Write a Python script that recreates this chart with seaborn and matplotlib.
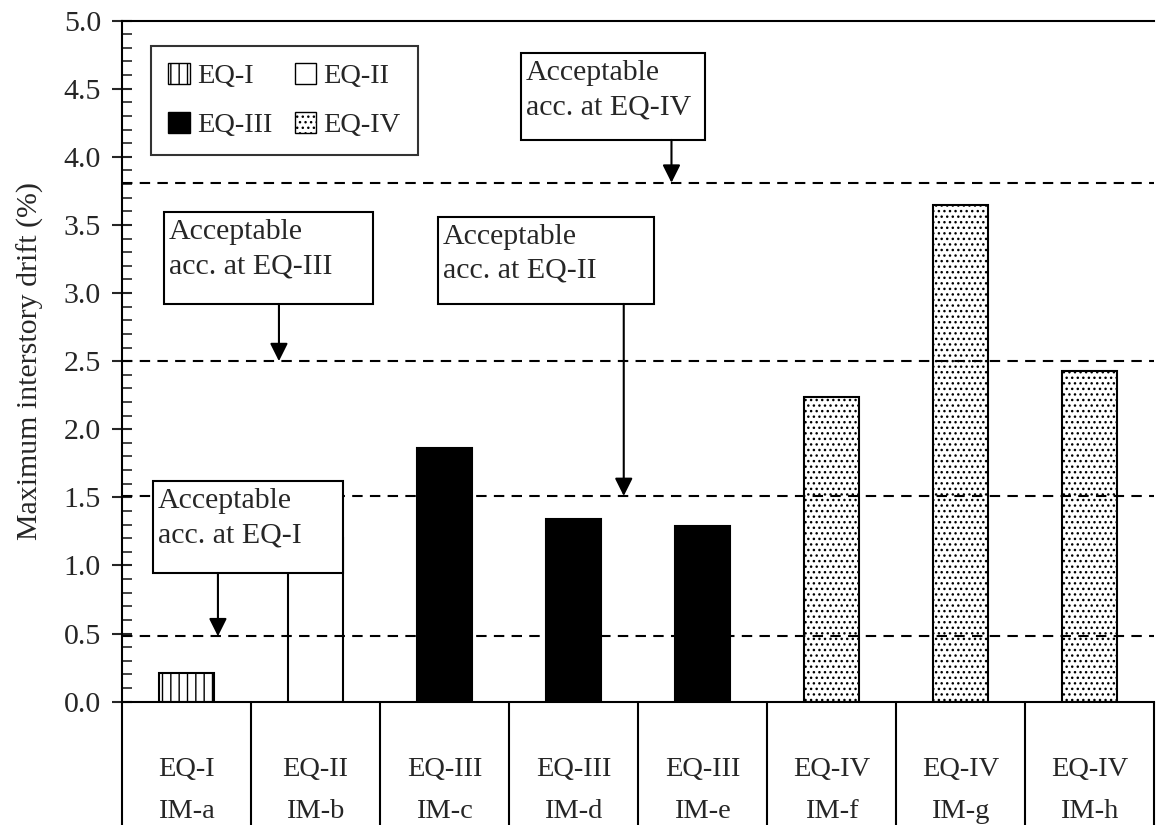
import numpy as np
import pandas as pd
import matplotlib
matplotlib.use('Agg')
import matplotlib.pyplot as plt
import seaborn as sns
from matplotlib.patches import Patch, Rectangle

sns.set_style('ticks')
plt.rcParams['font.family'] = ['Liberation Serif', 'DejaVu Serif']
plt.rcParams['hatch.linewidth'] = 1.0

# data
models = ['IM-a', 'IM-b', 'IM-c', 'IM-d', 'IM-e', 'IM-f', 'IM-g', 'IM-h']
levels = ['EQ-I', 'EQ-II', 'EQ-III', 'EQ-III', 'EQ-III', 'EQ-IV', 'EQ-IV', 'EQ-IV']
drift = [0.21, 1.20, 1.865, 1.34, 1.29, 2.235, 3.65, 2.43]
limit_levels = ['EQ-I', 'EQ-II', 'EQ-III', 'EQ-IV']
limits = [0.48, 1.51, 2.50, 3.81]

styles = {
    'EQ-I': dict(facecolor='white', hatch='||'),
    'EQ-II': dict(facecolor='white', hatch=''),
    'EQ-III': dict(facecolor='black', hatch=''),
    'EQ-IV': dict(facecolor='white', hatch='...'),
}

df = pd.DataFrame({'model': models, 'level': levels, 'drift': drift})

fig = plt.figure(figsize=(11.56, 8.25), dpi=100)
ax = fig.add_axes([0.1055, 0.1495, 0.8927, 0.8255])

sns.barplot(data=df, x='model', y='drift', color='white', edgecolor='black',
            linewidth=1.5, width=0.42, ax=ax, zorder=2)
for bar, lev in zip(ax.patches, df['level']):
    bar.set_facecolor(styles[lev]['facecolor'])
    bar.set_hatch(styles[lev]['hatch'])
    bar.set_edgecolor('black')

for val in limits:
    ax.axhline(val, color='black', lw=1.5, ls=(0, (5, 3.5)), zorder=3)

ax.set_xlim(-0.5, len(models) - 0.5)
ax.set_ylim(0, 5.0)
ax.set_yticks(np.arange(0, 5.01, 0.5))
ax.set_yticklabels(['%.1f' % v for v in np.arange(0, 5.01, 0.5)])
ax.set_yticks(np.arange(0, 5.01, 0.1), minor=True)
ax.tick_params(axis='y', which='major', direction='inout', length=14, width=1.5,
               labelsize=21.5, pad=8)
ax.tick_params(axis='y', which='minor', direction='in', length=7, width=1.2)
ax.tick_params(axis='x', bottom=False, labelbottom=False)
ax.set_xlabel('')
ax.set_ylabel('Maximum interstory drift (%)', fontsize=21.5, labelpad=14)
for s in ['left', 'top', 'bottom']:
    ax.spines[s].set_linewidth(1.5)
    ax.spines[s].set_color('black')
ax.spines['right'].set_visible(False)

# table below the axis
trans = ax.get_xaxis_transform()
for i, (m, lev) in enumerate(zip(models, levels)):
    ax.text(i, -0.099, lev, transform=trans, ha='center', va='center', fontsize=20.5)
    ax.text(i, -0.161, m, transform=trans, ha='center', va='center', fontsize=20.5)
for b in np.arange(-0.5, len(models), 1.0):
    ax.plot([b, b], [0, -0.2], transform=trans, color='black', lw=1.5,
            clip_on=False, zorder=5)

# annotation boxes: (left, right, top, bottom, arrow x)
boxes = {
    'EQ-I': (-0.26, 1.213, 1.62, 0.945, 0.244),
    'EQ-II': (1.95, 3.624, 3.56, 2.92, 3.39),
    'EQ-III': (-0.174, 1.446, 3.595, 2.92, 0.717),
    'EQ-IV': (2.593, 4.02, 4.763, 4.124, 3.76),
}
for lev, val in zip(limit_levels, limits):
    x0, x1, yt, yb, xa = boxes[lev]
    ax.add_patch(Rectangle((x0, yb), x1 - x0, yt - yb, facecolor='white',
                           edgecolor='black', lw=1.5, zorder=6))
    ax.text(x0 + 0.04, yt - 0.05, 'Acceptable\nacc. at ' + lev, ha='left', va='top',
            fontsize=21.5, linespacing=1.42, zorder=7)
    ax.annotate('', xy=(xa, val), xytext=(xa, yb),
                arrowprops=dict(arrowstyle='-|>', color='black', lw=1.5,
                                mutation_scale=27, shrinkA=0, shrinkB=0),
                zorder=7)

handles = [Patch(facecolor=styles[l]['facecolor'], hatch=styles[l]['hatch'],
                 edgecolor='black', lw=1.0, label=l) for l in limit_levels]
leg = ax.legend(handles=[handles[i] for i in [0, 2, 1, 3]], ncol=2, loc='upper left',
                bbox_to_anchor=(0.0145, 0.984), fontsize=20.5, frameon=True,
                fancybox=False, edgecolor='black', handlelength=0.75,
                handleheight=0.75, handletextpad=0.25, columnspacing=0.8,
                borderpad=0.6, labelspacing=0.8)
leg.get_frame().set_linewidth(1.5)
leg.set_zorder(8)

fig.savefig('out.png', dpi=100)
